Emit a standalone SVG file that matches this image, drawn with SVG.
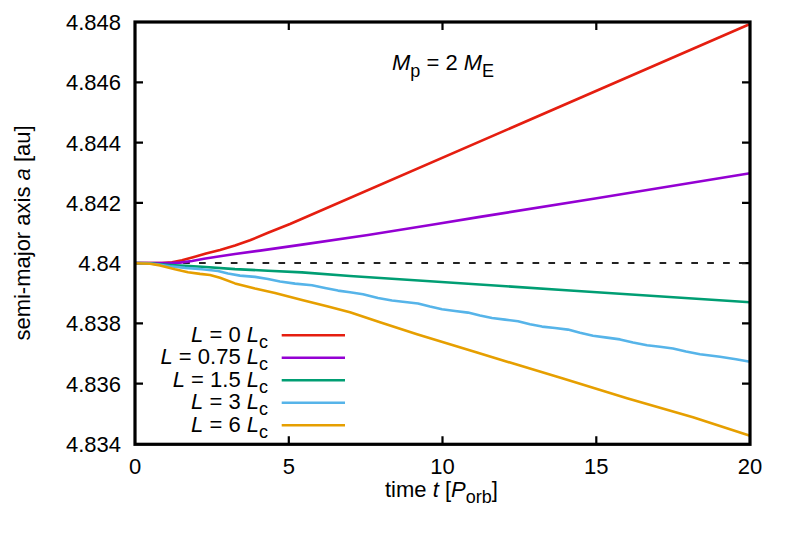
<svg xmlns="http://www.w3.org/2000/svg" width="789" height="539" viewBox="0 0 789 539">
<style>
text { font-family: "Liberation Sans", Arial, sans-serif; font-size: 22px; fill: #000; }
.it { font-style: italic; }
.sub { font-size: 18px; }
.tl { text-anchor: end; }
.tb { text-anchor: middle; }
.curve { fill: none; stroke-width: 2.6; stroke-linejoin: round; stroke-linecap: butt; }
.tick { stroke: #000; stroke-width: 2.2; }
</style>
<rect width="789" height="539" fill="#fff"/>
<g id="axes">
  <g id="ticks">
    <path class="tick" d="M135 82.3h8M135 142.6h8M135 202.9h8M135 263.1h8M135 323.4h8M135 383.7h8
      M750 82.3h-8M750 142.6h-8M750 202.9h-8M750 263.1h-8M750 323.4h-8M750 383.7h-8
      M288.8 444.3v-8M442.5 444.3v-8M596.3 444.3v-8
      M288.8 22v8M442.5 22v8M596.3 22v8"/>
  </g>
  <g id="ytick-labels">
    <text class="tl" x="121" y="30">4.848</text>
    <text class="tl" x="121" y="90.3">4.846</text>
    <text class="tl" x="121" y="150.6">4.844</text>
    <text class="tl" x="121" y="210.9">4.842</text>
    <text class="tl" x="121" y="271.1">4.84</text>
    <text class="tl" x="121" y="331.4">4.838</text>
    <text class="tl" x="121" y="391.7">4.836</text>
    <text class="tl" x="121" y="452">4.834</text>
  </g>
  <g id="xtick-labels">
    <text class="tb" x="135" y="474">0</text>
    <text class="tb" x="288.8" y="474">5</text>
    <text class="tb" x="442.5" y="474">10</text>
    <text class="tb" x="596.3" y="474">15</text>
    <text class="tb" x="750" y="474">20</text>
  </g>
  <text id="ylabel" class="tb" transform="translate(30 233) rotate(-90)">semi-major axis <tspan class="it">a</tspan> [au]</text>
  <text id="xlabel" x="385" y="497">time <tspan class="it">t</tspan> [<tspan class="it">P</tspan><tspan class="sub" dy="6">orb</tspan><tspan dy="-6">]</tspan></text>
</g>
<g id="connectors">
  <path d="M135.5 263.1H750" fill="none" stroke="#222" stroke-width="2" stroke-dasharray="6.7 9.18"/>
  <polyline class="curve" stroke="#e51e10" points="135,263.1 162,263 172,262.3 182,260.3 194,257 206,253.6 220,250 235,245.6 250,240.3 268,232.8 290,224 750,24"/>
  <polyline class="curve" stroke="#9400d3" points="135,263.1 170,263.1 180,262.6 192,261 204,258.8 220,256.3 235,254 260,250.6 302,244.6 368,235 435,224.3 480,216.9 596.7,198.3 750,173.3"/>
  <polyline class="curve" stroke="#009e73" points="135,263.1 150,263.3 160,264.2 170,265 185,265.9 202,266.7 235,269.1 268,270.7 302,272.4 350,276 570,290.5 750,302.3"/>
  <polyline class="curve" stroke="#56b4e9" points="135,263.1 150,263.5 160,264.8 170,266.2 185,267.9 202,269.3 218,271 228,273.5 240,275.6 255,276.9 268,279 280,281.5 295,283.6 312,285.3 325,288 338,290.6 350,292.3 363,294.3 378,298 392,300.5 405,302 418,303.5 430,306.5 442,309.2 455,311 468,312.6 480,315.5 492,318 505,319.6 518,321.2 530,324.2 542,326.6 555,328 568,329.6 580,332.8 593,335.8 607,337.6 620,339.4 633,342.5 647,345.2 660,346.8 673,348.5 686,351.5 700,354.2 720,356.8 736,359.2 750,361.8"/>
  <polyline class="curve" stroke="#e69f00" points="135,263.3 150,263.8 160,265.4 175,269.3 188,272.3 200,273.9 210,275 220,277.7 235,283.4 255,288.5 275,293 302,300.1 328,306.6 350,312.3 380,322.3 417,334.2 477,352.6 520,365.6 563,378.6 627,398.2 693,417.3 750,435.8"/>
</g>
<g id="frame">
  <rect x="135" y="22" width="615" height="422.3" fill="none" stroke="#000" stroke-width="3.2"/>
</g>
<g id="annotation">
  <text x="392" y="70"><tspan class="it">M</tspan><tspan class="sub" dy="6.5">p</tspan><tspan dy="-6.5"> = 2 </tspan><tspan class="it">M</tspan><tspan class="sub" dy="6.5">E</tspan></text>
</g>
<g id="legend">
  <g id="key-L0">
    <text class="tl" x="268" y="341.7"><tspan class="it">L</tspan> = 0 <tspan class="it">L</tspan><tspan class="sub" dy="6">c</tspan></text>
    <line x1="281.7" y1="335.3" x2="345" y2="335.3" stroke="#e51e10" stroke-width="2.6"/>
  </g>
  <g id="key-L075">
    <text class="tl" x="268" y="364.2"><tspan class="it">L</tspan> = 0.75 <tspan class="it">L</tspan><tspan class="sub" dy="6">c</tspan></text>
    <line x1="281.7" y1="357.8" x2="345" y2="357.8" stroke="#9400d3" stroke-width="2.6"/>
  </g>
  <g id="key-L15">
    <text class="tl" x="268" y="386.7"><tspan class="it">L</tspan> = 1.5 <tspan class="it">L</tspan><tspan class="sub" dy="6">c</tspan></text>
    <line x1="281.7" y1="380.3" x2="345" y2="380.3" stroke="#009e73" stroke-width="2.6"/>
  </g>
  <g id="key-L3">
    <text class="tl" x="268" y="409.2"><tspan class="it">L</tspan> = 3 <tspan class="it">L</tspan><tspan class="sub" dy="6">c</tspan></text>
    <line x1="281.7" y1="402.8" x2="345" y2="402.8" stroke="#56b4e9" stroke-width="2.6"/>
  </g>
  <g id="key-L6">
    <text class="tl" x="268" y="431.7"><tspan class="it">L</tspan> = 6 <tspan class="it">L</tspan><tspan class="sub" dy="6">c</tspan></text>
    <line x1="281.7" y1="425.3" x2="345" y2="425.3" stroke="#e69f00" stroke-width="2.6"/>
  </g>
</g>
</svg>
